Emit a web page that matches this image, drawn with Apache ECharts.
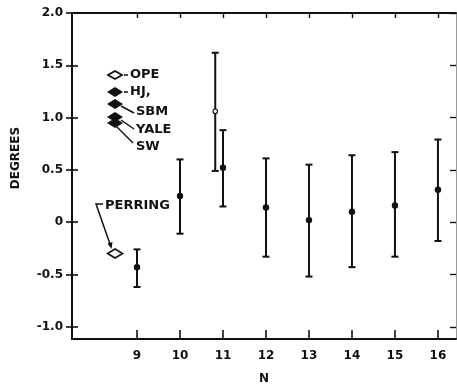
<!DOCTYPE html>
<html>
<head>
<meta charset="utf-8">
<script src="https://cdn.jsdelivr.net/npm/echarts@6/dist/echarts.min.js"></script>
<style>
  html, body { margin: 0; padding: 0; background: #fff; }
  #chart { width: 457px; height: 386px; }
</style>
</head>
<body>
<div id="chart"></div>
<script>
// Mean angle (degrees) with error limits, by N
const nFilled = [9, 10, 11, 12, 13, 14, 15, 16];
const meanFilled = [-0.43, 0.25, 0.52, 0.14, 0.02, 0.10, 0.16, 0.31];
const lowFilled = [-0.62, -0.11, 0.15, -0.33, -0.52, -0.43, -0.33, -0.18];
const highFilled = [-0.26, 0.60, 0.88, 0.61, 0.55, 0.64, 0.67, 0.79];

// Open-circle measurement near N = 11
const nOpen = [10.82];
const meanOpen = [1.06];
const lowOpen = [0.49];
const highOpen = [1.62];

// Perring value (open diamond)
const nPerring = [8.49];
const valPerring = [-0.30];

const xTicks = [9, 10, 11, 12, 13, 14, 15, 16];
const yTicks = [-1.0, -0.5, 0, 0.5, 1.0, 1.5, 2.0];

const FONT = '"DejaVu Sans", sans-serif';
const INK = '#111';

const X_MIN = 7.488, X_MAX = 16.42;
const Y_MIN = -1.117, Y_MAX = 2.0;

function errData(ns, m, lo, hi) {
  return ns.map((n, i) => [n, m[i], lo[i], hi[i]]);
}

function makeErrRender(openDot) {
  return function (params, api) {
    const x = api.value(0);
    const c = api.coord([x, api.value(1)]);
    const lo = api.coord([x, api.value(2)]);
    const hi = api.coord([x, api.value(3)]);
    const hw = 3.5;
    const st = { stroke: INK, lineWidth: 2 };
    const children = [
      { type: 'line', shape: { x1: c[0], y1: hi[1], x2: c[0], y2: lo[1] }, style: st },
      { type: 'line', shape: { x1: c[0] - hw, y1: hi[1], x2: c[0] + hw, y2: hi[1] }, style: st },
      { type: 'line', shape: { x1: c[0] - hw, y1: lo[1], x2: c[0] + hw, y2: lo[1] }, style: st }
    ];
    if (openDot) {
      children.push({ type: 'circle', shape: { cx: c[0], cy: c[1], r: 2.3 },
        style: { fill: '#fff', stroke: INK, lineWidth: 1.2 }, z2: 5 });
    } else {
      children.push({ type: 'circle', shape: { cx: c[0], cy: c[1], r: 3.2 },
        style: { fill: INK }, z2: 5 });
    }
    return { type: 'group', children };
  };
}

function diamond(cx, cy, w, h, filled) {
  return {
    type: 'polygon',
    shape: { points: [[cx - w / 2, cy], [cx, cy - h / 2], [cx + w / 2, cy], [cx, cy + h / 2]] },
    style: filled ? { fill: INK } : { fill: '#fff', stroke: INK, lineWidth: 1.8 }
  };
}
function seg(x1, y1, x2, y2) {
  return { type: 'line', shape: { x1, y1, x2, y2 }, style: { stroke: INK, lineWidth: 1.5 } };
}
function label(text, x, y) {
  return { type: 'text', x, y, style: { text, font: 'bold 13px ' + FONT, fill: INK,
    textAlign: 'left', textVerticalAlign: 'middle' } };
}

const tickLabelStyle = { color: INK, fontFamily: FONT, fontSize: 12, fontWeight: 'bold' };

const option = {
  backgroundColor: '#fff',
  animation: false,
  grid: { left: 72, top: 13, right: 1, bottom: 47, containLabel: false, outerBoundsMode: 'none' },
  xAxis: [
    {
      type: 'value', min: X_MIN, max: X_MAX, position: 'bottom',
      axisLine: { show: true, onZero: false, lineStyle: { color: INK, width: 2 } },
      axisTick: { show: true, inside: true, length: 9, customValues: xTicks, lineStyle: { color: INK, width: 1.6 } },
      axisLabel: { show: true, customValues: xTicks, margin: 11, ...tickLabelStyle },
      splitLine: { show: false },
      name: 'N', nameLocation: 'middle', nameGap: 34,
      nameTextStyle: { color: INK, fontFamily: FONT, fontSize: 12, fontWeight: 'bold' }
    },
    {
      type: 'value', min: X_MIN, max: X_MAX, position: 'top',
      axisLine: { show: true, onZero: false, lineStyle: { color: INK, width: 2 } },
      axisTick: { show: true, inside: true, length: 5, customValues: xTicks, lineStyle: { color: INK, width: 1.4 } },
      axisLabel: { show: false },
      splitLine: { show: false }
    }
  ],
  yAxis: [
    {
      type: 'value', min: Y_MIN, max: Y_MAX, position: 'left',
      axisLine: { show: true, onZero: false, lineStyle: { color: INK, width: 2 } },
      axisTick: { show: true, inside: false, length: 6, customValues: yTicks, lineStyle: { color: INK, width: 1.6 } },
      axisLabel: { show: true, customValues: yTicks, margin: 9,
        formatter: v => (v === 0 ? '0' : v.toFixed(1)), ...tickLabelStyle },
      splitLine: { show: false }
    },
    {
      type: 'value', min: Y_MIN, max: Y_MAX, position: 'left', offset: 0,
      axisLine: { show: false, onZero: false },
      axisTick: { show: true, inside: true, length: 6, customValues: yTicks, lineStyle: { color: INK, width: 1.6 } },
      axisLabel: { show: false },
      splitLine: { show: false }
    },
    {
      type: 'value', min: Y_MIN, max: Y_MAX, position: 'right',
      axisLine: { show: true, onZero: false, lineStyle: { color: '#999', width: 1 } },
      axisTick: { show: true, inside: true, length: 6, customValues: yTicks, lineStyle: { color: INK, width: 1.4 } },
      axisLabel: { show: false },
      splitLine: { show: false }
    }
  ],
  series: [
    {
      type: 'custom', name: 'filled', xAxisIndex: 0, yAxisIndex: 0,
      renderItem: makeErrRender(false),
      data: errData(nFilled, meanFilled, lowFilled, highFilled),
      encode: { x: 0, y: [1, 2, 3] }
    },
    {
      type: 'custom', name: 'open', xAxisIndex: 0, yAxisIndex: 0,
      renderItem: makeErrRender(true),
      data: errData(nOpen, meanOpen, lowOpen, highOpen),
      encode: { x: 0, y: [1, 2, 3] }
    },
    {
      type: 'scatter', name: 'PERRING', xAxisIndex: 0, yAxisIndex: 0,
      symbol: 'diamond', symbolSize: [15, 9],
      itemStyle: { color: '#fff', borderColor: INK, borderWidth: 1.8, opacity: 1 },
      data: nPerring.map((n, i) => [n, valPerring[i]])
    }
  ],
  graphic: [
    // axis title
    { type: 'text', x: 16, y: 158, rotation: Math.PI / 2,
      style: { text: 'DEGREES', font: 'bold 12px ' + FONT, fill: INK, textAlign: 'center', textVerticalAlign: 'middle' } },
    // key of symbols
    diamond(115, 75, 14, 8, false),
    seg(124, 75, 128, 75), label('OPE', 130, 75),
    diamond(115, 92, 16, 10, true),
    seg(124, 92, 128, 92), label('HJ,', 130, 92),
    diamond(115, 104, 16, 10, true),
    seg(121, 106, 134, 113), label('SBM', 136, 112),
    diamond(115, 117, 16, 10, true),
    diamond(115, 123, 16, 10, true),
    seg(121, 120, 134, 129), label('YALE', 136, 130),
    seg(116, 126, 133, 143), label('SW', 136, 147),
    // Perring annotation
    { type: 'polyline', shape: { points: [[103, 204], [96, 204], [110, 244]] },
      style: { stroke: INK, lineWidth: 1.5, fill: null } },
    { type: 'polygon', shape: { points: [[107.5, 243.5], [112.5, 242], [111.5, 249]] },
      style: { fill: INK } },
    label('PERRING', 105, 206)
  ]
};

const chart = echarts.init(document.getElementById('chart'), null, { renderer: 'canvas' });
chart.setOption(option);
</script>
</body>
</html>
